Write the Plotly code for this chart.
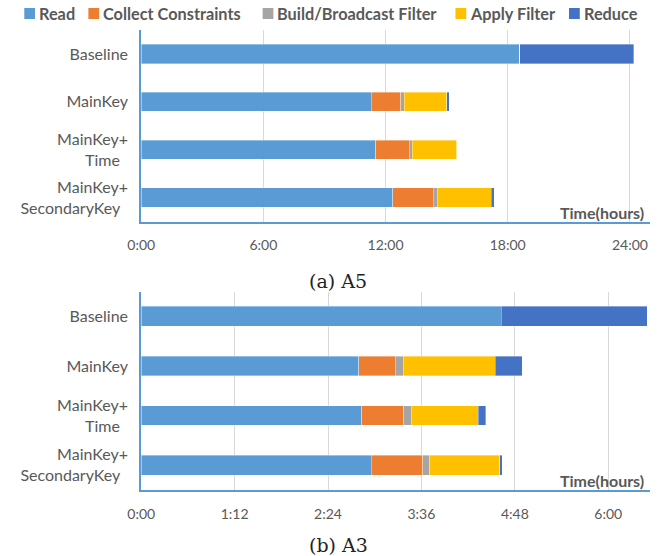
import plotly.graph_objects as go

categories = ["Baseline", "MainKey", "MainKey+<br>Time\u00a0\u00a0", "MainKey+<br>SecondaryKey\u00a0\u00a0"]
series_names = ["Read", "Collect Constraints", "Build/Broadcast Filter", "Apply Filter", "Reduce"]
colors = ["#5B9BD5", "#ED7D31", "#A5A5A5", "#FFC000", "#4472C4"]

# A5 values (hours)
a5_read = [18.60, 11.30, 11.52, 12.35]
a5_collect = [0.0, 1.44, 1.64, 1.99]
a5_build = [0.0, 0.18, 0.14, 0.20]
a5_apply = [0.0, 2.09, 2.19, 2.66]
a5_reduce = [5.60, 0.12, 0.03, 0.14]

# A3 values (hours)
a3_read = [4.625, 2.793, 2.830, 2.952]
a3_collect = [0.0, 0.473, 0.542, 0.663]
a3_build = [0.0, 0.102, 0.095, 0.092]
a3_apply = [0.0, 1.178, 0.860, 0.897]
a3_reduce = [1.874, 0.350, 0.102, 0.037]

a5_ticks = [0, 6, 12, 18, 24]
a5_ticklabels = ["0:00", "6:00", "12:00", "18:00", "24:00"]
a3_ticks = [0, 1.2, 2.4, 3.6, 4.8, 6.0]
a3_ticklabels = ["0:00", "1:12", "2:24", "3:36", "4:48", "6:00"]

W, H = 662, 556
def px_x(p):
    return p / W
def px_y(p):
    return 1 - p / H

fig = go.Figure()
a5 = [a5_read, a5_collect, a5_build, a5_apply, a5_reduce]
a3 = [a3_read, a3_collect, a3_build, a3_apply, a3_reduce]
for name, col, vals in zip(series_names, colors, a5):
    fig.add_trace(go.Bar(y=categories, x=vals, orientation="h", name=name,
                         marker=dict(color=col, line=dict(color="rgba(255,255,255,0.45)", width=0.8)),
                         xaxis="x", yaxis="y", showlegend=False))
for name, col, vals in zip(series_names, colors, a3):
    fig.add_trace(go.Bar(y=categories, x=vals, orientation="h", name=name,
                         marker=dict(color=col, line=dict(color="rgba(255,255,255,0.45)", width=0.8)),
                         xaxis="x2", yaxis="y2", showlegend=False))

axis_col = "#5B9BD5"
grid_col = "#D9D9D9"
txt_col = "#595959"
font_main = "Lato"

xcommon = dict(showline=True, linecolor=axis_col, linewidth=2, showgrid=True, gridcolor=grid_col,
               gridwidth=1, zeroline=False, ticks="", tickfont=dict(family=font_main, size=14, color=txt_col),
               tickmode="array", ticklabelstandoff=10, domain=[px_x(130), px_x(650)])
ycommon = dict(showline=True, linecolor=axis_col, linewidth=2, showgrid=False, ticks="",
               tickfont=dict(family=font_main, size=16, color=txt_col), autorange="reversed",
               ticklabelstandoff=8)

fig.update_layout(
    width=W, height=H,
    margin=dict(l=0, r=0, t=0, b=0),
    paper_bgcolor="white", plot_bgcolor="white",
    barmode="stack", bargap=0.6,
    xaxis=dict(**xcommon, range=[0, 25], tickvals=a5_ticks, ticktext=a5_ticklabels, anchor="y"),
    yaxis=dict(**ycommon, domain=[px_y(221.5), px_y(30)], anchor="x"),
    xaxis2=dict(**xcommon, range=[0, 6.54], tickvals=a3_ticks, ticktext=a3_ticklabels, anchor="y2"),
    yaxis2=dict(**ycommon, domain=[px_y(490), px_y(291.5)], anchor="x2"),
    showlegend=False,
)

# legend (manual)
leg_sq_x = [10.5, 76, 254, 451, 567]
leg_y = 13.5
shapes = []
annotations = []
for name, col, sx in zip(series_names, colors, leg_sq_x):
    shapes.append(dict(type="rect", xref="paper", yref="paper",
                       x0=px_x(sx), x1=px_x(sx + 11), y0=px_y(leg_y + 5.5), y1=px_y(leg_y - 5.5),
                       fillcolor=col, line=dict(width=0)))
    annotations.append(dict(text="<b>" + name + "</b>", xref="paper", yref="paper",
                            x=px_x(sx + 13), y=px_y(leg_y), xanchor="left", yanchor="middle",
                            showarrow=False, font=dict(family=font_main, size=16.3, color=txt_col)))

for yy in [212.7, 480.7]:
    annotations.append(dict(text="<b>Time(hours)</b>", xref="paper", yref="paper",
                            x=px_x(646), y=px_y(yy), xanchor="right", yanchor="middle",
                            showarrow=False, font=dict(family=font_main, size=16, color=txt_col)))

for txt, yy in [("(a) A5", 280.5), ("(b) A3", 545)]:
    annotations.append(dict(text=txt, xref="paper", yref="paper", x=px_x(331), y=px_y(yy),
                            xanchor="center", yanchor="middle", showarrow=False,
                            font=dict(family="DejaVu Serif", size=19, color="#222222")))

fig.update_layout(shapes=shapes, annotations=annotations)
fig.write_html("out.html", config={"displayModeBar": False},
               post_script="document.body.style.margin='0';document.body.style.overflow='hidden';")
